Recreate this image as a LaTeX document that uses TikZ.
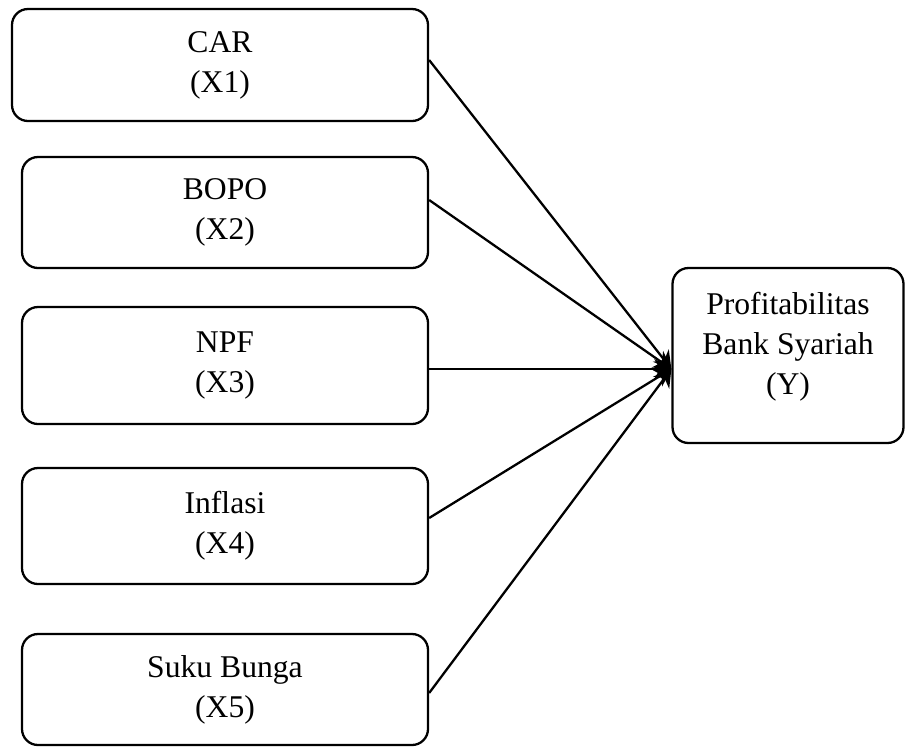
\documentclass[tikz,border=0pt]{standalone}
\usepackage{fontspec}
\setmainfont{Liberation Serif}
\usetikzlibrary{arrows.meta}
\begin{document}
\begin{tikzpicture}[
    var/.style={draw, line width=1.3pt, rounded corners=0.32cm, align=center,
        font=\fontsize{18}{22.8}\selectfont, inner sep=0pt},
    link/.style={line width=1.3pt, -{Stealth[length=0.34cm, width=0.4cm]}}
  ]
            \useasboundingbox (0, 0) rectangle (18.10, -14.94);
            % Independent variables
            \node[var, minimum width=8.32cm, minimum height=2.24cm] (X1) at (4.40, -1.30) {CAR\\(X1)};
            \node[var, minimum width=8.12cm, minimum height=2.22cm] (X2) at (4.50, -4.25) {BOPO\\(X2)};
            \node[var, minimum width=8.12cm, minimum height=2.34cm] (X3) at (4.50, -7.31) {NPF\\(X3)};
            \node[var, minimum width=8.12cm, minimum height=2.32cm] (X4) at (4.50, -10.52) {Inflasi\\(X4)};
            \node[var, minimum width=8.12cm, minimum height=2.22cm] (X5) at (4.50, -13.79) {Suku Bunga\\(X5)};
            % Dependent variable
            \node[var, minimum width=4.62cm, minimum height=3.50cm] (Y) at (15.76, -7.11) {Profitabilitas\\Bank Syariah\\(Y)\rule[-0.48cm]{0pt}{0pt}};
            \coordinate (tip) at ([yshift=-0.27cm]Y.west);

            \draw [link] ([yshift=0.10cm]X1.east) -- (tip);
            \draw [link] ([yshift=0.25cm]X2.east) -- (tip);
            \draw [link] ([yshift=-0.07cm]X3.east) -- (tip);
            \draw [link] ([yshift=0.16cm]X4.east) -- (tip);
            \draw [link] ([yshift=-0.07cm]X5.east) -- (tip);
\end{tikzpicture}
\end{document}
